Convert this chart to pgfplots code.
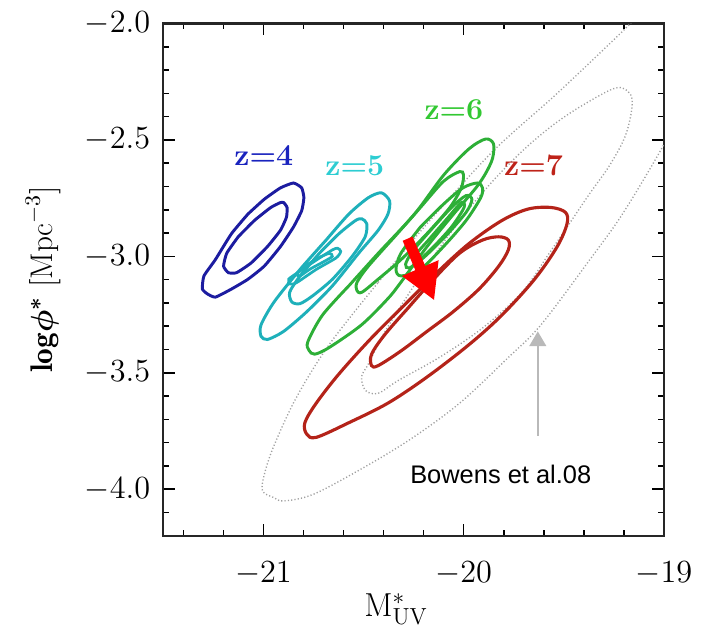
\documentclass[border=0pt]{standalone}
\usepackage{fix-cm}
\usepackage{fontspec}
\newfontfamily\arialfont{Liberation Sans}
\usepackage{pgfplots}
\pgfplotsset{compat=1.18}
\usetikzlibrary{arrows.meta}

\definecolor{cfour}{RGB}{28,28,160}
\definecolor{cfive}{RGB}{30,176,186}
\definecolor{csix}{RGB}{45,175,55}
\definecolor{cseven}{RGB}{180,35,25}
\definecolor{lfour}{RGB}{25,35,190}
\definecolor{lfive}{RGB}{45,205,210}
\definecolor{lsix}{RGB}{50,200,50}
\definecolor{lseven}{RGB}{190,35,25}
\definecolor{dotgray}{RGB}{160,160,160}
\definecolor{arrowgray}{RGB}{185,185,185}

\begin{document}
\begin{tikzpicture}
\begin{axis}[
  name=ax,
  scale only axis,
  width=256pt, height=262pt,
  xmin=-21.5, xmax=-19, ymin=-4.2, ymax=-2.0,
  xtick={-21,-20,-19},
  minor xtick={-21.4,-21.2,-20.8,-20.6,-20.4,-20.2,-19.8,-19.6,-19.4,-19.2},
  ytick={-4,-3.5,-3,-2.5,-2},
  minor ytick={-4.1,-3.9,-3.8,-3.7,-3.6,-3.4,-3.3,-3.2,-3.1,-2.9,-2.8,-2.7,-2.6,-2.4,-2.3,-2.2,-2.1},
  tick align=inside,
  major tick length=6pt, minor tick length=3pt,
  every tick/.style={black, line width=0.8pt},
  axis line style={line width=1.2pt, black!85},
  ticklabel style={font=\fontsize{16.5}{18}\selectfont, inner sep=1pt},
  xticklabel style={yshift=-11.8pt},
  yticklabel style={xshift=-5.5pt, /pgf/number format/.cd, fixed, fixed zerofill, precision=1},
  every axis x label/.style={at={(axis description cs:0.465,-0.143)}, anchor=center, inner sep=0pt},
  every axis y label/.style={at={(axis description cs:-0.240,0.5)}, anchor=center, rotate=90, inner sep=0pt},
  xlabel={\fontsize{17}{19}\selectfont $\mathrm{M}^{*}_{\mathrm{UV}}$},
  ylabel={\fontsize{16}{18}\selectfont {\boldmath$\mathrm{log}\phi^{*}$}\ $[\mathrm{Mpc}^{-3}]$},
  clip=true,
]

% Bouwens et al. 2008 confidence regions
\addplot[dotgray, line width=0.7pt, dash pattern=on 0.6pt off 1.1pt, smooth, tension=0.55] coordinates {
 (-20.427,-3.112) (-20.183,-2.860) (-19.858,-2.552) (-19.533,-2.300) (-19.207,-2.034)
 (-19.085,-1.929) (-18.939,-1.887) (-18.841,-1.971) (-18.827,-2.160) (-18.915,-2.370)
 (-19.012,-2.538) (-19.207,-2.818) (-19.370,-3.014) (-19.614,-3.294) (-19.777,-3.434)
 (-20.020,-3.630) (-20.264,-3.784) (-20.508,-3.911) (-20.752,-4.022) (-20.899,-4.050)
 (-20.947,-4.036) (-21.004,-4.008) (-20.996,-3.938) (-20.947,-3.812) (-20.833,-3.602)
 (-20.671,-3.378) (-20.427,-3.112)};
\addplot[dotgray, line width=0.7pt, dash pattern=on 0.6pt off 1.1pt, smooth, tension=0.55] coordinates {
 (-20.134,-2.979) (-19.988,-2.811) (-19.841,-2.664) (-19.695,-2.538) (-19.549,-2.433)
 (-19.402,-2.349) (-19.241,-2.277) (-19.173,-2.298) (-19.159,-2.357) (-19.193,-2.483)
 (-19.271,-2.609) (-19.368,-2.727) (-19.461,-2.845) (-19.573,-2.987) (-19.710,-3.155)
 (-19.905,-3.307) (-20.120,-3.433) (-20.329,-3.534) (-20.427,-3.588) (-20.490,-3.576)
 (-20.510,-3.517) (-20.476,-3.462) (-20.402,-3.336) (-20.280,-3.168) (-20.134,-2.979)};

% z = 4
\addplot[cfour, line width=1.5pt, smooth, tension=0.3] coordinates {
 (-21.077,-2.818) (-20.996,-2.755) (-20.915,-2.706) (-20.850,-2.685) (-20.809,-2.706)
 (-20.798,-2.748) (-20.809,-2.804) (-20.850,-2.874) (-20.915,-2.958) (-20.996,-3.042)
 (-21.077,-3.098) (-21.159,-3.140) (-21.240,-3.175) (-21.280,-3.161) (-21.305,-3.140)
 (-21.297,-3.084) (-21.240,-3.014) (-21.159,-2.902) (-21.077,-2.818)};
\addplot[cfour, line width=1.5pt, smooth, tension=0.3] coordinates {
 (-21.126,-2.916) (-21.045,-2.846) (-20.963,-2.790) (-20.915,-2.769) (-20.899,-2.769)
 (-20.882,-2.790) (-20.885,-2.832) (-20.915,-2.888) (-20.980,-2.958) (-21.061,-3.028)
 (-21.134,-3.070) (-21.175,-3.070) (-21.199,-3.042) (-21.183,-2.986) (-21.126,-2.916)};

% z = 5
\addplot[cfive, line width=1.5pt, smooth, tension=0.45] coordinates {
 (-20.687,-2.930) (-20.573,-2.818) (-20.476,-2.748) (-20.411,-2.727) (-20.370,-2.762)
 (-20.378,-2.818) (-20.427,-2.888) (-20.524,-2.986) (-20.655,-3.126) (-20.784,-3.238)
 (-20.899,-3.322) (-20.980,-3.357) (-21.012,-3.343) (-21.012,-3.294) (-20.947,-3.196)
 (-20.817,-3.056) (-20.687,-2.930)};
\addplot[cfive, line width=1.5pt, smooth, tension=0.45] coordinates {
 (-20.720,-2.986) (-20.622,-2.902) (-20.540,-2.846) (-20.508,-2.839) (-20.484,-2.860)
 (-20.492,-2.916) (-20.557,-3.000) (-20.655,-3.098) (-20.752,-3.168) (-20.817,-3.203)
 (-20.858,-3.196) (-20.869,-3.154) (-20.817,-3.084) (-20.720,-2.986)};
\addplot[cfive, line width=1.4pt, smooth, tension=0.45] coordinates {
 (-20.720,-3.007) (-20.655,-2.972) (-20.630,-2.965) (-20.614,-2.979) (-20.638,-3.007)
 (-20.736,-3.056) (-20.833,-3.112) (-20.866,-3.119) (-20.874,-3.098) (-20.817,-3.063)
 (-20.720,-3.007)};
\addplot[cfive, line width=1.4pt, smooth, tension=0.45] coordinates {
 (-20.720,-3.004) (-20.671,-2.987) (-20.656,-3.000) (-20.695,-3.021) (-20.768,-3.055)
 (-20.817,-3.084) (-20.832,-3.076) (-20.793,-3.042) (-20.720,-3.004)};

% z = 6
\addplot[csix, line width=1.5pt, smooth, tension=0.5] coordinates {
 (-20.573,-3.126) (-20.427,-2.987) (-20.246,-2.819) (-20.100,-2.651) (-19.973,-2.538)
 (-19.890,-2.496) (-19.851,-2.517) (-19.856,-2.580) (-19.890,-2.643) (-19.939,-2.706)
 (-20.051,-2.819) (-20.183,-2.958) (-20.315,-3.113) (-20.378,-3.181) (-20.510,-3.294)
 (-20.671,-3.391) (-20.744,-3.420) (-20.773,-3.403) (-20.778,-3.366) (-20.705,-3.252)
 (-20.573,-3.126)};
\addplot[csix, line width=1.5pt, smooth, tension=0.5] coordinates {
 (-20.345,-2.916) (-20.216,-2.790) (-20.101,-2.678) (-20.020,-2.636) (-20.001,-2.650)
 (-20.012,-2.706) (-20.069,-2.790) (-20.183,-2.902) (-20.313,-3.014) (-20.427,-3.098)
 (-20.508,-3.154) (-20.533,-3.147) (-20.533,-3.112) (-20.476,-3.042) (-20.345,-2.916)};
\addplot[csix, line width=1.5pt, smooth, tension=0.5] coordinates {
 (-20.216,-2.874) (-20.101,-2.776) (-20.004,-2.706) (-19.931,-2.685) (-19.906,-2.706)
 (-19.915,-2.748) (-19.988,-2.846) (-20.101,-2.958) (-20.216,-3.056) (-20.313,-3.084)
 (-20.338,-3.056) (-20.313,-2.986) (-20.216,-2.874)};
\addplot[csix, line width=1.5pt, smooth, tension=0.5] coordinates {
 (-20.159,-2.882) (-20.061,-2.790) (-19.988,-2.739) (-19.959,-2.756) (-19.988,-2.811)
 (-20.085,-2.908) (-20.193,-3.000) (-20.271,-3.050) (-20.290,-3.034) (-20.256,-2.979)
 (-20.159,-2.882)};
\addplot[csix, line width=1.5pt, smooth, tension=0.5] coordinates {
 (-20.183,-2.937) (-20.085,-2.840) (-20.012,-2.769) (-19.998,-2.790) (-20.061,-2.874)
 (-20.159,-2.966) (-20.232,-3.021) (-20.246,-3.000) (-20.183,-2.937)};

% z = 7
\addplot[cseven, line width=1.6pt, smooth, tension=0.55] coordinates {
 (-20.297,-3.210) (-20.134,-3.070) (-19.972,-2.944) (-19.809,-2.846) (-19.679,-2.797)
 (-19.565,-2.790) (-19.492,-2.811) (-19.484,-2.860) (-19.533,-2.958) (-19.646,-3.098)
 (-19.809,-3.252) (-19.972,-3.378) (-20.183,-3.518) (-20.378,-3.630) (-20.573,-3.714)
 (-20.736,-3.777) (-20.784,-3.763) (-20.793,-3.714) (-20.736,-3.630) (-20.622,-3.504)
 (-20.460,-3.350) (-20.297,-3.210)};
\addplot[cseven, line width=1.6pt, smooth, tension=0.55] coordinates {
 (-20.280,-3.224) (-20.150,-3.098) (-20.020,-2.986) (-19.906,-2.930) (-19.825,-2.916)
 (-19.777,-2.930) (-19.777,-2.972) (-19.825,-3.042) (-19.923,-3.140) (-20.053,-3.238)
 (-20.183,-3.322) (-20.313,-3.406) (-20.427,-3.469) (-20.460,-3.469) (-20.460,-3.420)
 (-20.394,-3.336) (-20.280,-3.224)};

% evolution arrow and reference pointer
\addplot[red, line width=5.5pt, -{Triangle[width=19pt,length=18pt]}] coordinates {
 (-20.280,-2.924) (-20.147,-3.189)};
\addplot[arrowgray, line width=1pt, -{Triangle[width=8.5pt,length=7.5pt]}] coordinates {
 (-19.630,-3.770) (-19.630,-3.322)};

\node[font=\arialfont\fontsize{13}{15}\selectfont] at (axis cs:-19.815,-3.937) {Bowens et al.08};
\node[text=lfour, font=\bfseries\fontsize{15.5}{17}\selectfont] at (axis cs:-20.998,-2.567) {z=4};
\node[text=lfive, font=\bfseries\fontsize{15.5}{17}\selectfont] at (axis cs:-20.544,-2.609) {z=5};
\node[text=lsix, font=\bfseries\fontsize{15.5}{17}\selectfont] at (axis cs:-20.049,-2.370) {z=6};
\node[text=lseven, font=\bfseries\fontsize{15.5}{17}\selectfont] at (axis cs:-19.651,-2.609) {z=7};
\end{axis}
\pgfresetboundingbox
\path[use as bounding box] (ax.south west) ++(-83.5pt,-49pt) rectangle ++(361pt,323pt);
\end{tikzpicture}
\end{document}
